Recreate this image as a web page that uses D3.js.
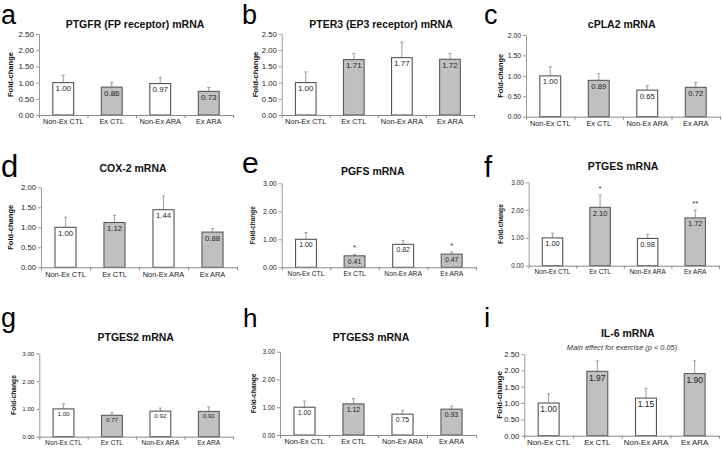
<!DOCTYPE html>
<html><head><meta charset="utf-8">
<script src="https://cdn.jsdelivr.net/npm/d3@7"></script>
<style>
body{margin:0;background:#fff}
svg{display:block;font-family:"Liberation Sans",Arial,Helvetica,sans-serif}
</style>
</head><body>
<svg id="chart" width="723" height="449"></svg>
<script>
// ---------- DATA ----------
const categories = ["Non-Ex CTL", "Ex CTL", "Non-Ex ARA", "Ex ARA"];
const panelLetters = ["a", "b", "c", "d", "e", "f", "g", "h", "i"];
const panelTitles = [
  "PTGFR (FP receptor) mRNA", "PTER3 (EP3 receptor) mRNA", "cPLA2 mRNA",
  "COX-2 mRNA", "PGFS mRNA", "PTGES mRNA",
  "PTGES2 mRNA", "PTGES3 mRNA", "IL-6 mRNA"
];
const yAxisTitle = "Fold-change";
const subtitleI = "Main effect for exercise (p < 0.05)";

const meansA = [1.00, 0.86, 0.97, 0.73];
const meansB = [1.00, 1.71, 1.77, 1.72];
const meansC = [1.00, 0.89, 0.65, 0.72];
const meansD = [1.00, 1.12, 1.44, 0.88];
const meansE = [1.00, 0.41, 0.82, 0.47];
const meansF = [1.00, 2.10, 0.98, 1.72];
const meansG = [1.00, 0.77, 0.92, 0.91];
const meansH = [1.00, 1.12, 0.75, 0.93];
const meansI = [1.00, 1.97, 1.15, 1.90];

const semA = [0.23, 0.15, 0.19, 0.12];
const semB = [0.33, 0.19, 0.48, 0.18];
const semC = [0.22, 0.16, 0.11, 0.12];
const semD = [0.25, 0.18, 0.34, 0.09];
const semE = [0.24, 0.05, 0.13, 0.07];
const semF = [0.17, 0.44, 0.15, 0.28];
const semG = [0.18, 0.09, 0.11, 0.16];
const semH = [0.22, 0.19, 0.14, 0.11];
const semI = [0.28, 0.32, 0.30, 0.39];

const sigE = ["", "*", "", "*"];
const sigF = ["", "*", "", "**"];

const yMaxes = [2.5, 2.5, 2.0, 2.0, 3.0, 3.0, 3.0, 3.0, 2.5];
const yTickSteps = [0.5, 0.5, 0.5, 0.5, 1.0, 1.0, 1.0, 1.0, 0.5];

const allMeans = [meansA, meansB, meansC, meansD, meansE, meansF, meansG, meansH, meansI];
const allSem = [semA, semB, semC, semD, semE, semF, semG, semH, semI];
const allSig = [null, null, null, null, sigE, sigF, null, null, null];

// ---------- LAYOUT / STYLE ----------
const layout = [
  {x0:39,   x1:233, yT:34,    y0:115,   lx:1,   ly:24,    lfs:27, tx:135,   ty:28,    ylx:10.7,  tfs:8,   xfs:7.4, vfs:8,   yfs:7.6},
  {x0:281.7,x1:474, yT:34,    y0:115,   lx:242, ly:24,    lfs:27, tx:381,   ty:28,    ylx:255,   tfs:7.7, xfs:7.5, vfs:8,   yfs:7.7},
  {x0:526,  x1:720, yT:35,    y0:116.7, lx:484, ly:24,    lfs:27, tx:621.7, ty:28.3,  ylx:500,   tfs:6.8, xfs:7.4, vfs:7.7, yfs:7.4},
  {x0:41,   x1:237, yT:187.3, y0:267.3, lx:1,   ly:176.7, lfs:31, tx:133,   ty:172,   ylx:10.7,  tfs:7.7, xfs:7.4, vfs:7.7, yfs:7.6},
  {x0:281.7,x1:476, yT:183.3, y0:267.3, lx:242, ly:173.3, lfs:30, tx:372.7, ty:175,   ylx:252.7, tfs:7,   xfs:6.7, vfs:6.9, yfs:6.4},
  {x0:528.7,x1:719, yT:182.3, y0:265.7, lx:484, ly:176.7, lfs:29, tx:623,   ty:169.7, ylx:500.3, tfs:6.4, xfs:6.5, vfs:7.5, yfs:6.7},
  {x0:39.3, x1:233, yT:353.3, y0:436.7, lx:1,   ly:326.5, lfs:27, tx:135.7, ty:341.4, ylx:13.3,  tfs:6.2, xfs:6.7, vfs:6.2, yfs:6.7},
  {x0:280,  x1:476, yT:351.7, y0:435,   lx:243, ly:326.7, lfs:26, tx:371,   ty:341.4, ylx:254,   tfs:6.4, xfs:7.3, vfs:6.9, yfs:6.7},
  {x0:524.3,x1:719, yT:354,   y0:435.7, lx:484, ly:327,   lfs:28, tx:627.8, ty:337.4, ylx:498.7, tfs:7.7, xfs:7.9, vfs:8.5, yfs:8}
];
const barFills = ["#ffffff", "#c0c0c0", "#ffffff", "#c0c0c0"];
const barStrokes = ["#555555", "#5a5a5a", "#555555", "#5a5a5a"];
const barWidthFrac = 0.43;

const svg = d3.select("#chart");

panelLetters.forEach((letter, p) => {
  const L = layout[p];
  const g = svg.append("g");
  const means = allMeans[p], sem = allSem[p], sig = allSig[p];

  const x = d3.scaleBand().domain(categories).range([L.x0, L.x1]).padding(0);
  const xb = d3.scaleLinear().domain([0, categories.length]).range([L.x0, L.x1]);
  const y = d3.scaleLinear().domain([0, yMaxes[p]]).range([L.y0, L.yT]);
  const ticks = d3.range(0, yMaxes[p] + 1e-9, yTickSteps[p]);

  // panel letter
  g.append("text").attr("x", L.lx).attr("y", L.ly)
    .attr("font-size", L.lfs).attr("fill", "#000").text(letter);

  // title
  g.append("text").attr("x", L.tx).attr("y", L.ty).attr("text-anchor", "middle")
    .attr("font-size", 10.5).attr("font-weight", "bold").attr("fill", "#111")
    .text(panelTitles[p]);
  if (p === 8) {
    g.append("text").attr("x", 622).attr("y", 350).attr("text-anchor", "middle")
      .attr("font-size", 7.4).attr("font-style", "italic").attr("fill", "#333")
      .text(subtitleI);
  }

  // y axis title
  g.append("text")
    .attr("transform", `translate(${L.ylx},${(L.y0 + L.yT) / 2}) rotate(-90)`)
    .attr("text-anchor", "middle").attr("dy", "0.35em")
    .attr("font-size", L.yfs).attr("font-weight", "bold").attr("fill", "#111")
    .text(yAxisTitle);

  // y axis
  const ya = g.append("g").attr("transform", `translate(${L.x0},0)`)
    .call(d3.axisLeft(y).tickValues(ticks).tickFormat(d3.format(".2f"))
      .tickSize(3).tickSizeOuter(0).tickPadding(2));
  ya.select(".domain").attr("stroke", "#999");
  ya.selectAll(".tick line").attr("stroke", "#999");
  ya.selectAll(".tick text").attr("font-size", L.tfs).attr("fill", "#222")
    .attr("font-family", null);

  // bars
  const bw = x.bandwidth() * barWidthFrac;
  const cx = c => x(c) + x.bandwidth() / 2;

  // error bars (drawn before bars so they start at bar top)
  g.selectAll(".err").data(categories).enter().append("line")
    .attr("x1", c => cx(c)).attr("x2", c => cx(c))
    .attr("y1", (c, i) => y(means[i])).attr("y2", (c, i) => y(means[i] + sem[i]))
    .attr("stroke", "#aaaaaa").attr("stroke-width", 1.2);
  g.selectAll(".cap").data(categories).enter().append("line")
    .attr("x1", c => cx(c) - 1.5).attr("x2", c => cx(c) + 1.5)
    .attr("y1", (c, i) => y(means[i] + sem[i])).attr("y2", (c, i) => y(means[i] + sem[i]))
    .attr("stroke", "#999999").attr("stroke-width", 1);

  g.selectAll(".bar").data(categories).enter().append("rect")
    .attr("x", c => cx(c) - bw / 2).attr("width", bw)
    .attr("y", (c, i) => y(means[i])).attr("height", (c, i) => y(0) - y(means[i]))
    .attr("fill", (c, i) => barFills[i]).attr("stroke", (c, i) => barStrokes[i])
    .attr("stroke-width", 1.1);

  // value labels
  g.selectAll(".val").data(categories).enter().append("text")
    .attr("x", c => cx(c)).attr("y", (c, i) => y(means[i]) + L.vfs + 0.8)
    .attr("text-anchor", "middle").attr("font-size", L.vfs).attr("fill", "#222")
    .text((c, i) => means[i].toFixed(2));

  // significance marks
  if (sig) {
    g.selectAll(".sig").data(categories).enter().append("text")
      .attr("x", c => cx(c)).attr("y", (c, i) => y(means[i] + sem[i]) - 4.5)
      .attr("text-anchor", "middle").attr("font-size", 7.5).attr("fill", "#333")
      .text((c, i) => sig[i]);
  }

  // x axis: baseline with ticks at category boundaries
  const xa = g.append("g").attr("transform", `translate(0,${L.y0})`)
    .call(d3.axisBottom(xb).tickValues(d3.range(0, categories.length + 1))
      .tickFormat("").tickSize(3).tickSizeOuter(0));
  xa.select(".domain").attr("stroke", "#888");
  xa.selectAll(".tick line").attr("stroke", "#888");

  const xl = g.append("g").attr("transform", `translate(0,${L.y0})`)
    .call(d3.axisBottom(x).tickSize(0).tickPadding(4));
  xl.select(".domain").remove();
  xl.selectAll(".tick text").attr("font-size", L.xfs).attr("fill", "#222")
    .attr("font-family", null);
});
</script>
</body></html>
